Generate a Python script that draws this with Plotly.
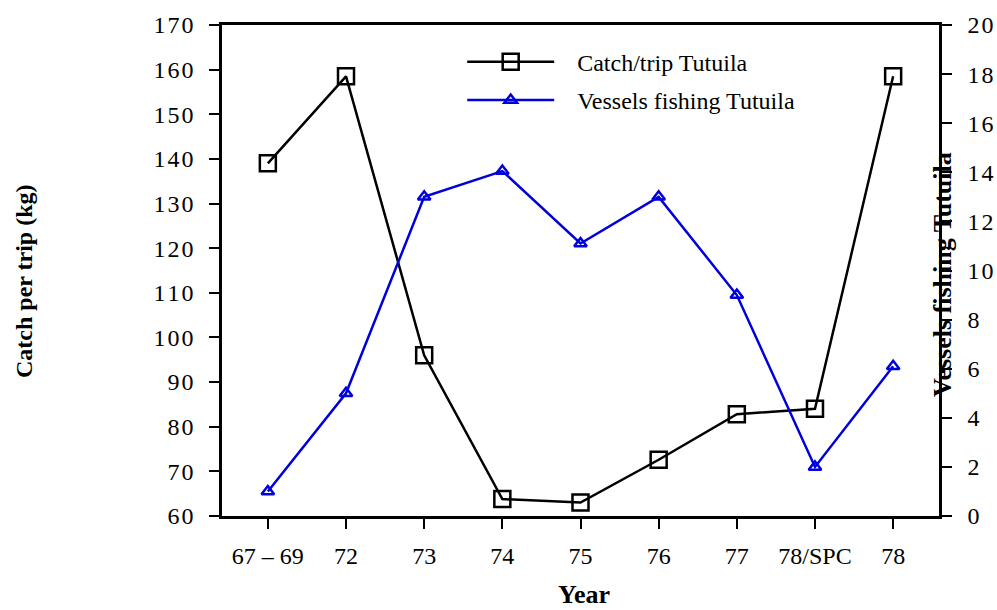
import plotly.graph_objects as go

years = ["67 – 69", "72", "73", "74", "75", "76", "77", "78/SPC", "78"]
catch_per_trip = [139, 158.5, 96, 63.8, 63.0, 72.6, 82.8, 84.0, 158.5]
vessels = [1.0, 5.0, 13.0, 14.05, 11.1, 13.0, 9.0, 2.0, 6.1]

left_ticks = list(range(60, 171, 10))
right_ticks = list(range(0, 21, 2))
SP = "\u200a"
NB = "\u00a0"

def spaced(v):
    return SP.join(str(v))

FONT = "Liberation Serif"
BLUE = "#0000dd"

W, H = 997, 610
L, T = 222, 25
PW, PH = 717, 491

fig = go.Figure()
fig.add_trace(go.Scatter(
    x=years, y=catch_per_trip, name=NB * 3 + "Catch/trip Tutuila", legendgroup="a",
    mode="lines+markers",
    line=dict(color="black", width=2.5),
    marker=dict(symbol="square-open", size=16, color="black", line=dict(width=2.5)),
))
fig.add_trace(go.Scatter(
    x=years, y=vessels, name=NB * 3 + "Vessels fishing Tutuila", legendgroup="b",
    mode="lines+markers", yaxis="y2",
    line=dict(color=BLUE, width=2.5),
    marker=dict(symbol="triangle-up-open", size=11, color=BLUE, line=dict(width=2.5)),
))

axis_common = dict(
    showline=True, linecolor="black", linewidth=2.5,
    ticks="outside", ticklen=10, tickwidth=2, tickcolor="black",
    showgrid=False, zeroline=False,
    tickfont=dict(family=FONT, size=24, color="black"),
)

fig.update_layout(
    width=W, height=H,
    margin=dict(l=L, r=W - L - PW, t=T, b=H - T - PH, autoexpand=False),
    paper_bgcolor="white", plot_bgcolor="white",
    font=dict(family=FONT, size=24, color="black"),
    xaxis=dict(type="category", mirror=True, ticklabelstandoff=6, **axis_common),
    yaxis=dict(range=[60, 170], tickvals=left_ticks, ticklabelstandoff=11,
               ticktext=[spaced(v) for v in left_ticks], **axis_common),
    yaxis2=dict(range=[0, 20], overlaying="y", side="right", tickvals=right_ticks,
                ticklabelstandoff=11,
                ticktext=[spaced(v) for v in right_ticks], **axis_common),
    legend=dict(x=0.335, y=0.97, xanchor="left", yanchor="top",
                bgcolor="rgba(0,0,0,0)", font=dict(family=FONT, size=24),
                itemwidth=87, tracegroupgap=4),
    showlegend=True,
    annotations=[
        dict(text="<b>Catch per trip (kg)</b>", textangle=-90, xref="paper", yref="paper",
             x=(24 - L) / PW, y=(T + PH - 281) / PH, xanchor="center", yanchor="middle",
             showarrow=False, font=dict(family=FONT, size=24)),
        dict(text="<b>Vessels fishing Tutuila</b>", textangle=-90, xref="paper", yref="paper",
             x=(942 - L) / PW, y=(T + PH - 275) / PH, xanchor="center", yanchor="middle",
             showarrow=False, font=dict(family=FONT, size=26)),
        dict(text="<b>Year</b>", xref="paper", yref="paper",
             x=(584 - L) / PW, y=(T + PH - 594) / PH, xanchor="center", yanchor="middle",
             showarrow=False, font=dict(family=FONT, size=26)),
    ],
)

fig.write_html("out.html", config={"displayModeBar": False},
               post_script="document.body.style.margin='0';document.body.style.overflow='hidden';")
